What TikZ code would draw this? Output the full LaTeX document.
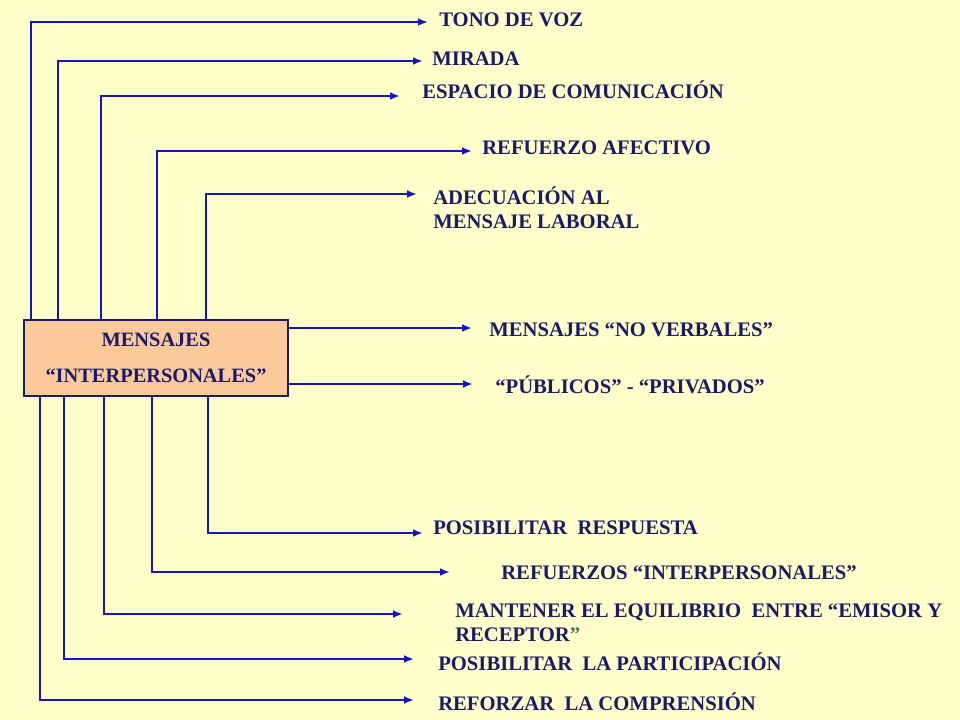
\documentclass[tikz,border=0pt]{standalone}
\usepackage{fontspec}
\setmainfont{Liberation Serif}
\usetikzlibrary{arrows.meta}

\definecolor{paper}{HTML}{FFFFCC}
\definecolor{ink}{HTML}{1A1A66}
\definecolor{wire}{HTML}{1414C0}
\definecolor{peach}{HTML}{FCC99B}
\definecolor{quotegreen}{HTML}{3A7A5A}

\begin{document}
\begin{tikzpicture}[x=0.025cm,y=-0.025cm]
        \tikzstyle{link}=[draw=wire, line width=2.1pt, -{Latex[length=7pt,width=5.5pt]}]
        \tikzstyle{lbl}=[anchor=base west, inner sep=0pt, text=ink, font=\bfseries\fontsize{14.7}{17}\selectfont]
        \tikzstyle{lbltwo}=[lbl, anchor=west, align=left]
        \tikzstyle{box}=[draw=ink, fill=peach, line width=2pt, minimum width=6.6cm, minimum height=1.9cm,
                         align=center, text=ink, font=\bfseries\fontsize{14.5}{26}\selectfont]

        \fill[paper] (0,0) rectangle (960,720);
        \useasboundingbox (0,0) rectangle (960,720);

        \node[box] (msg) at (156,358) {MENSAJES\\“INTERPERSONALES”};

        % labels above
        \node[lbl] (tono) at (439,26.5) {TONO DE VOZ};
        \node[lbl] (mirada) at (432,65.5) {MIRADA};
        \node[lbl] (espacio) at (422,98.5) {ESPACIO DE COMUNICACIÓN};
        \node[lbl] (afectivo) at (482,154.5) {REFUERZO AFECTIVO};
        \node[lbltwo] (adecuacion) at (433,208) {ADECUACIÓN AL\\MENSAJE LABORAL};

        % labels to the right
        \node[lbl] (noverbal) at (489,336.5) {MENSAJES “NO VERBALES”};
        \node[lbl] (publicos) at (495,393.5) {“PÚBLICOS” - “PRIVADOS”};

        % labels below
        \node[lbl] (respuesta) at (433,534.5) {POSIBILITAR\ \ RESPUESTA};
        \node[lbl] (refuerzos) at (501,579.5) {REFUERZOS “INTERPERSONALES”};
        \node[lbltwo] (equilibrio) at (455,623) {MANTENER EL EQUILIBRIO\ \ ENTRE “EMISOR Y\\RECEPTOR{\color{quotegreen}”}};
        \node[lbl] (participacion) at (438,670.5) {POSIBILITAR\ \ LA PARTICIPACIÓN};
        \node[lbl] (comprension) at (438,710.5) {REFORZAR\ \ LA COMPRENSIÓN};

        % arrow tips
        \coordinate (tono-tip) at (428,22);
        \coordinate (mirada-tip) at (423,61);
        \coordinate (espacio-tip) at (400,96);
        \coordinate (afectivo-tip) at (472,151);
        \coordinate (adecuacion-tip) at (417,194);
        \coordinate (noverbal-tip) at (472,328);
        \coordinate (publicos-tip) at (473,384);
        \coordinate (respuesta-tip) at (423,533);
        \coordinate (refuerzos-tip) at (450,572);
        \coordinate (equilibrio-tip) at (403,614);
        \coordinate (participacion-tip) at (414,659);
        \coordinate (comprension-tip) at (414,700);

        \draw[link] (31,0 |- msg.north) |- (tono-tip);          % tono de voz
        \draw[link] (58,0 |- msg.north) |- (mirada-tip);        % mirada
        \draw[link] (101,0 |- msg.north) |- (espacio-tip);      % espacio
        \draw[link] (157,0 |- msg.north) |- (afectivo-tip);     % refuerzo afectivo
        \draw[link] (206,0 |- msg.north) |- (adecuacion-tip);   % adecuacion

        \draw[link] (msg.east |- 0,328) -- (noverbal-tip);      % no verbales
        \draw[link] (msg.east |- 0,384) -- (publicos-tip);      % publicos - privados

        \draw[link] (208,0 |- msg.south) |- (respuesta-tip);    % respuesta
        \draw[link] (152,0 |- msg.south) |- (refuerzos-tip);    % refuerzos
        \draw[link] (104,0 |- msg.south) |- (equilibrio-tip);   % equilibrio
        \draw[link] (64,0 |- msg.south) |- (participacion-tip); % participacion
        \draw[link] (40,0 |- msg.south) |- (comprension-tip);   % comprension
\end{tikzpicture}
\end{document}
